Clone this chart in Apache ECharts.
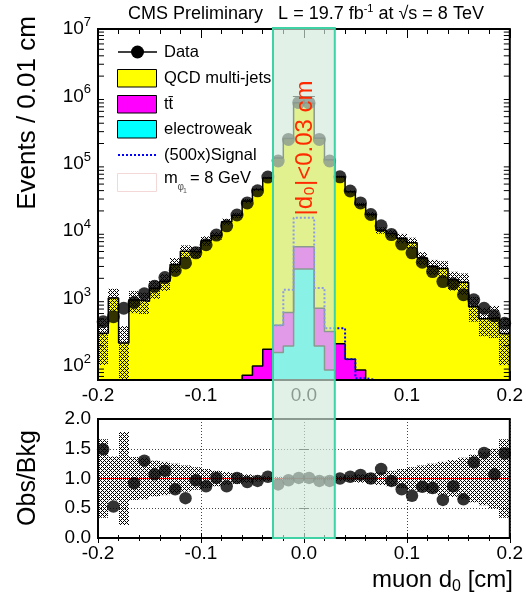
<!DOCTYPE html>
<html><head><meta charset="utf-8">
<script src="https://cdn.jsdelivr.net/npm/echarts@6/dist/echarts.min.js"></script>
<style>html,body{margin:0;padding:0;background:#fff}#c{width:526px;height:604px}</style>
</head><body><div id="c"></div>
<script>
// ---------------- data ----------------
const binCenters = [-0.195,-0.185,-0.175,-0.165,-0.155,-0.145,-0.135,-0.125,-0.115,-0.105,
  -0.095,-0.085,-0.075,-0.065,-0.055,-0.045,-0.035,-0.025,-0.015,-0.005,
  0.005,0.015,0.025,0.035,0.045,0.055,0.065,0.075,0.085,0.095,
  0.105,0.115,0.125,0.135,0.145,0.155,0.165,0.175,0.185,0.195];
const binWidth = 0.01;
const dataObs = [455,540,720,875,1180,1520,2050,2620,3380,4780,
  6300,8750,12000,17400,26300,39700,63500,110000,230000,810000,
  800000,230000,110000,64000,39500,26300,17700,12000,8900,6450,
  4780,3460,2520,1790,1660,1140,960,720,555,430];
const qcd = [305,1020,220,950,910,1420,1810,3200,5050,4930,
  7240,8660,13800,17200,27900,41300,61500,121600,236400,796100,
  786100,239300,114300,63800,38300,24700,17700,10300,9270,7870,
  6730,4020,3000,2800,1910,1750,756,503,519,303];
const ttbar = [0,0,0,0,0,0,0,0,0,0,
  0,0,0,0,73,100,177,246,422,3110,
  3110,522,237,213,126,87,0,0,0,0,
  0,0,0,0,0,0,0,0,0,0];
const ewk = [0,0,0,0,0,0,0,0,0,0,
  0,0,0,0,0,0,0,158,198,2750,
  2750,198,87,0,0,0,0,0,0,0,
  0,0,0,0,0,0,0,0,0,0];
const signal500 = [0,0,0,0,0,0,0,0,0,0,
  0,0,0,0,0,0,0,400,1350,15800,
  15800,1440,363,363,126,66,0,0,0,0,
  0,0,0,0,0,0,0,0,0,0];
const bkgRelErr = [0.66,0.37,0.78,0.36,0.35,0.30,0.28,0.25,0.22,0.19,
  0.16,0.13,0.11,0.09,0.07,0.05,0.04,0.03,0.02,0.01,
  0.01,0.02,0.03,0.04,0.05,0.07,0.09,0.11,0.13,0.16,
  0.19,0.22,0.25,0.28,0.31,0.35,0.40,0.45,0.50,0.66];
const ratioObs = [1.49,0.53,3.30,0.92,1.30,1.07,1.13,0.82,0.67,0.97,
  0.87,1.01,0.87,1.01,0.94,0.96,1.03,0.90,0.97,1.01,
  1.01,0.96,0.96,1.00,1.03,1.06,1.00,1.16,0.96,0.82,
  0.71,0.86,0.84,0.64,0.87,0.65,1.27,1.43,1.07,1.42];
const xTickLabels = ['-0.2','-0.1','0.0','0.1','0.2'];
const ratioTickLabels = ['0.0','0.5','1.0','1.5','2.0'];
const cutLow = -0.03, cutHigh = 0.03;
const Y_MIN = 62, Y_MAX = 1e7;
const X_MIN = -0.2, X_MAX = 0.2;

// ---------------- derived ----------------
const total = qcd.map((q,i)=>q+ttbar[i]+ewk[i]);
const ttew = ttbar.map((t,i)=>t+ewk[i]);

// hatch pattern
const pat = document.createElement('canvas');
pat.width = 4; pat.height = 4;
(function(){
  const c = pat.getContext('2d');
  c.fillStyle = '#000';
  for (let x=0;x<4;x++) for (let y=0;y<4;y++) {
    if ((x+y)%4===0 || ((x-y)+4)%4===0) c.fillRect(x,y,1,1);
  }
})();
const hatch = {image: pat, repeat: 'repeat'};

function rectFor(api, x0, x1, lo, hi) {
  const p0 = api.coord([x0, hi]);
  const p1 = api.coord([x1, lo]);
  const xa = Math.round(p0[0]), xb = Math.round(p1[0]);
  return {x: xa, y: p0[1], width: xb - xa, height: p1[1] - p0[1]};
}

function histFill(values, color, z) {
  return {type:'custom', xAxisIndex:0, yAxisIndex:0, z, silent:true, clip:true,
    data: binCenters.map((c,i)=>[c, values[i]]),
    renderItem(params, api) {
      const x = api.value(0), v = api.value(1);
      if (!(v > Y_MIN)) return null;
      return {type:'rect', shape: rectFor(api, x-binWidth/2, x+binWidth/2, Y_MIN, Math.min(v, Y_MAX)),
        style:{fill: color}};
    }};
}
function stepPts(values) {
  const pts = [];
  binCenters.forEach((c,i)=>{
    const v = Math.min(Math.max(values[i], Y_MIN), Y_MAX);
    pts.push([c-binWidth/2, v], [c+binWidth/2, v]);
  });
  return pts;
}
function stepLine(values, color, width, type, z) {
  return {type:'line', xAxisIndex:0, yAxisIndex:0, z, silent:true, showSymbol:false, symbol:'none',
    data: stepPts(values), lineStyle:{color, width, type}, animation:false};
}

const minorVals = [];
for (let e=1;e<7;e++) for (let m=2;m<10;m++) { const v=m*Math.pow(10,e); if (v>Y_MIN && v<Y_MAX) minorVals.push(v); }

const chart = echarts.init(document.getElementById('c'), null, {renderer:'canvas'});
const font = 'Liberation Sans, Arial, Helvetica, sans-serif';

function xAxisDef(grid, pos, labels, opts) {
  return Object.assign({type:'value', gridIndex:grid, position:pos, min:X_MIN, max:X_MAX, interval:0.1,
    axisLine:{show:false},
    axisTick:{show:true, inside:true, length:9, lineStyle:{color:'#000', width:1}},
    minorTick:{show:true, splitNumber:5, length:5, lineStyle:{color:'#000', width:1}},
    splitLine:{show:false},
    axisLabel:{show:labels, fontSize:19, fontFamily:font, color:'#000', margin:6,
      formatter: v => { const i = Math.round((v - X_MIN)/0.1); return xTickLabels[i] ?? ''; }}
  }, opts||{});
}

const lgText = (id, x, y, text) => ({type:'text', id, z:41, x, y,
  style:{text, fontSize:16.5, fontFamily:font, fill:'#000', verticalAlign:'middle'}});

const option = {
  animation:false,
  backgroundColor:'#fff',
  grid:[
    {left:98, top:29, width:412, height:351, show:true, borderColor:'#000', borderWidth:2, backgroundColor:'transparent', z:10},
    {left:98, top:419, width:412, height:119, show:true, borderColor:'#000', borderWidth:2, backgroundColor:'transparent', z:10}
  ],
  xAxis:[
    xAxisDef(0,'bottom',true),
    xAxisDef(0,'top',false),
    xAxisDef(1,'bottom',true,{axisTick:{show:true,inside:true,length:5,lineStyle:{color:'#000'}},
      minorTick:{show:true,splitNumber:5,length:3,lineStyle:{color:'#000'}},
      splitLine:{show:true, lineStyle:{color:'#444', width:1, type:[1,2]}}}),
    xAxisDef(1,'top',false,{axisTick:{show:true,inside:true,length:5,lineStyle:{color:'#000'}},
      minorTick:{show:true,splitNumber:5,length:3,lineStyle:{color:'#000'}}})
  ],
  yAxis:[
    {type:'log', logBase:10, gridIndex:0, position:'left', min:Y_MIN, max:Y_MAX,
      axisLine:{show:false}, splitLine:{show:false},
      axisTick:{show:true, inside:true, length:11, lineStyle:{color:'#000'}},
      axisLabel:{fontSize:19, fontFamily:font, color:'#000', margin:7,
        formatter: v => { const e = Math.round(Math.log10(v)); if (Math.abs(v/Math.pow(10,e)-1) > 1e-6) return ''; return '{b|10}{s|' + e + '}'; },
        rich:{b:{fontSize:19, fontFamily:font, color:'#000', lineHeight:26}, s:{fontSize:13, fontFamily:font, color:'#000', lineHeight:13, verticalAlign:'top'}}}},
    {type:'log', logBase:10, gridIndex:0, position:'right', min:Y_MIN, max:Y_MAX,
      axisLine:{show:false}, splitLine:{show:false},
      axisTick:{show:true, inside:true, length:11, lineStyle:{color:'#000'}}, axisLabel:{show:false}},
    {type:'value', gridIndex:1, position:'left', min:0, max:2, interval:0.5,
      axisLine:{show:false},
      axisTick:{show:true, inside:true, length:5, lineStyle:{color:'#000'}},
      splitLine:{show:true, lineStyle:{color:'#444', width:1, type:[1,2]}},
      axisLabel:{fontSize:19, fontFamily:font, color:'#000', margin:7,
        formatter: v => ratioTickLabels[Math.round(v/0.5)] ?? ''}},
    {type:'value', gridIndex:1, position:'right', min:0, max:2, interval:0.5,
      axisLine:{show:false}, splitLine:{show:false},
      axisTick:{show:true, inside:true, length:5, lineStyle:{color:'#000'}}, axisLabel:{show:false}}
  ],
  series:[
    histFill(total, '#ffff00', 2),
    histFill(ttew, '#ff00ff', 3),
    histFill(ewk, '#00ffff', 4),
    stepLine(total, '#000', 1.5, 'solid', 5),
    stepLine(ttew, '#000', 1.5, 'solid', 5),
    stepLine(ewk, '#000', 1.5, 'solid', 5),
    {type:'custom', xAxisIndex:0, yAxisIndex:0, z:6, silent:true, clip:true,
      data: binCenters.map((c,i)=>[c, total[i], bkgRelErr[i]]),
      renderItem(params, api) {
        const x = api.value(0), b = api.value(1), e = api.value(2);
        const lo = Math.max(b*(1-e), Y_MIN), hi = Math.min(b*(1+e), Y_MAX);
        if (hi <= lo) return null;
        return {type:'rect', shape: rectFor(api, x-binWidth/2, x+binWidth/2, lo, hi), style:{fill: hatch}};
      }},
    stepLine(signal500, '#0000ff', 2, [2,2], 7),
    {type:'scatter', xAxisIndex:0, yAxisIndex:0, z:8, symbol:'circle', symbolSize:13,
      itemStyle:{color:'#000'}, data: binCenters.map((c,i)=>[c, dataObs[i]])},
    // minor log ticks
    {type:'custom', xAxisIndex:0, yAxisIndex:0, z:9, silent:true, clip:false,
      data: minorVals.map(v=>[0, v]),
      renderItem(params, api) {
        const y = api.coord([0, api.value(1)])[1];
        const cs = params.coordSys;
        return {type:'group', children:[
          {type:'line', shape:{x1:cs.x, y1:y, x2:cs.x+6, y2:y}, style:{stroke:'#000', lineWidth:1}},
          {type:'line', shape:{x1:cs.x+cs.width, y1:y, x2:cs.x+cs.width-6, y2:y}, style:{stroke:'#000', lineWidth:1}}]};
      }},
    // ratio panel
    {type:'custom', xAxisIndex:2, yAxisIndex:2, z:3, silent:true, clip:true,
      data: binCenters.map((c,i)=>[c, bkgRelErr[i]]),
      renderItem(params, api) {
        const x = api.value(0), e = api.value(1);
        return {type:'rect', shape: rectFor(api, x-binWidth/2, x+binWidth/2, Math.max(1-e,0), Math.min(1+e,2)), style:{fill: hatch}};
      }},
    {type:'line', xAxisIndex:2, yAxisIndex:2, z:4, silent:true, showSymbol:false, symbol:'none',
      data:[[X_MIN,1],[X_MAX,1]], lineStyle:{color:'#ff0000', width:1}},
    {type:'scatter', xAxisIndex:2, yAxisIndex:2, z:8, symbol:'circle', symbolSize:12.5, clip:true,
      itemStyle:{color:'#000'}, data: binCenters.map((c,i)=>[c, ratioObs[i]])}
  ],
  graphic:[
    {type:'text', id:'title', x:306, y:14, z:50, style:{
      text:'{n|CMS Preliminary   L = 19.7 fb}{s|-1}{n| at \u221As = 8 TeV}', align:'center', verticalAlign:'middle',
      rich:{n:{fontSize:18, fontFamily:font, color:'#000', lineHeight:22},
            s:{fontSize:11, fontFamily:font, color:'#000', lineHeight:11, verticalAlign:'top'}}}},
    {type:'text', id:'ytitle', x:28, y:113, rotation:Math.PI/2, z:50, style:{
      text:'Events / 0.01 cm', fontSize:26, fontFamily:font, fill:'#000', align:'center', verticalAlign:'middle'}},
    {type:'text', id:'rtitle', x:28, y:478, rotation:Math.PI/2, z:50, style:{
      text:'Obs/Bkg', fontSize:25, fontFamily:font, fill:'#000', align:'center', verticalAlign:'middle'}},
    {type:'text', id:'xtitle', x:513, y:580, z:50, style:{
      text:'{n|muon d}{u|0}{n| [cm]}', align:'right', verticalAlign:'middle',
      rich:{n:{fontSize:24, fontFamily:font, color:'#000', lineHeight:30},
            u:{fontSize:16, fontFamily:font, color:'#000', lineHeight:16, verticalAlign:'bottom'}}}},
    // legend
    {type:'line', id:'lg1l', z:40, shape:{x1:118,y1:52,x2:157,y2:52}, style:{stroke:'#000', lineWidth:1.5}},
    {type:'circle', id:'lg1c', z:41, shape:{cx:137.5, cy:52, r:6.5}, style:{fill:'#000'}},
    lgText('lg1t', 164, 52, 'Data'),
    {type:'rect', id:'lg2r', z:40, shape:{x:117.5,y:69.5,width:39,height:17.5}, style:{fill:'#ffff00', stroke:'#000', lineWidth:1}},
    lgText('lg2t', 164, 78.5, 'QCD multi-jets'),
    {type:'rect', id:'lg3r', z:40, shape:{x:117.5,y:95.5,width:39,height:17.5}, style:{fill:'#ff00ff', stroke:'#000', lineWidth:1}},
    lgText('lg3t', 164, 104.5, 'tt\u0304'),
    {type:'rect', id:'lg4r', z:40, shape:{x:117.5,y:120.5,width:39,height:17.5}, style:{fill:'#00ffff', stroke:'#000', lineWidth:1}},
    lgText('lg4t', 164, 129.5, 'electroweak'),
    {type:'line', id:'lg5l', z:40, shape:{x1:118,y1:155,x2:157,y2:155}, style:{stroke:'#0000ff', lineWidth:2, lineDash:[2,2]}},
    lgText('lg5t', 164, 155, '(500x)Signal'),
    {type:'rect', id:'lg6r', z:40, shape:{x:117.5,y:173.5,width:39,height:18}, style:{fill:'#fff', stroke:'#f4d8d8', lineWidth:1}},
    lgText('lg6t', 164, 178, 'm'),
    {type:'text', id:'lg6s', z:41, x:177.5, y:187, style:{text:'\u03C6', fontSize:10, fontFamily:font, fill:'#555', verticalAlign:'middle'}},
    {type:'text', id:'lg6u', z:41, x:183, y:191, style:{text:'1', fontSize:7, fontFamily:font, fill:'#555', verticalAlign:'middle'}},
    lgText('lg6v', 190, 178, '= 8 GeV')
  ]
};
chart.setOption(option);

// cut region overlay (computed from the axes)
const pA = chart.convertToPixel({xAxisIndex:0, yAxisIndex:0}, [cutLow, Y_MAX]);
const pB = chart.convertToPixel({xAxisIndex:0, yAxisIndex:0}, [cutHigh, Y_MAX]);
const pC = chart.convertToPixel({xAxisIndex:2, yAxisIndex:2}, [cutLow, 0]);
chart.setOption({graphic:[
  {type:'rect', id:'cut', z:100, shape:{x:pA[0], y:pA[1]-1, width:pB[0]-pA[0], height:pC[1]-pA[1]+1},
    style:{fill:'rgba(209,233,218,0.66)', stroke:'#3fd2a4', lineWidth:2}},
  {type:'text', id:'cuttext', z:101, x:(pA[0]+pB[0])/2 + 1, y:148, rotation:Math.PI/2,
    style:{text:'|d\u2080|<0.03 cm', fontSize:24, fontFamily:font, fill:'#ff2a00', align:'center', verticalAlign:'middle'}}
]});
</script>
</body></html>
